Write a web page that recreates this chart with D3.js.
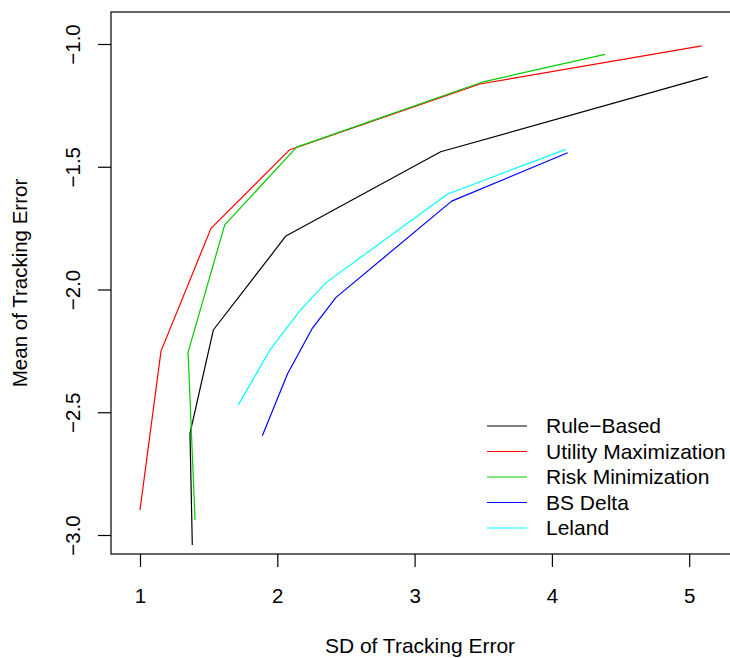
<html>
  <head>
    <meta charset="UTF-8" />
    <style>
      body { margin: 0; background: white; }
      text { font-family: "Liberation Sans", Arial, sans-serif; }
    </style>
    <script src="https://d3js.org/d3.v7.min.js"></script>
  </head>

  <body>
    <svg id="svg"></svg>

    <script>
      // series values (x = SD, y = mean of tracking error)
      var ruleX = [1.381, 1.364, 1.534, 2.063, 3.19, 5.135],
        ruleY = [-3.041, -2.586, -2.165, -1.782, -1.439, -1.133];
      var utilX = [1.0, 1.153, 1.517, 2.087, 3.476, 5.091],
        utilY = [-2.898, -2.251, -1.751, -1.432, -1.163, -1.008];
      var riskX = [1.401, 1.35, 1.617, 2.141, 3.5, 4.387],
        riskY = [-2.939, -2.256, -1.737, -1.42, -1.154, -1.042];
      var bsX = [1.891, 2.074, 2.255, 2.426, 3.27, 4.115],
        bsY = [-2.596, -2.344, -2.158, -2.033, -1.64, -1.443];
      var lelandX = [1.716, 1.947, 2.165, 2.355, 3.238, 4.1],
        lelandY = [-2.47, -2.246, -2.086, -1.972, -1.612, -1.429];

      var seriesNames = ["Rule\u2212Based", "Utility Maximization", "Risk Minimization", "BS Delta", "Leland"];
      var seriesColors = ["black", "red", "#00CD00", "blue", "cyan"];
      var xTicks = [1, 2, 3, 4, 5];
      var yTicks = [-3.0, -2.5, -2.0, -1.5, -1.0];

      var width = 730,
        height = 658;

      var svg = d3.select("#svg").attr("width", width).attr("height", height);

      // plot box (right side runs off the picture like the original)
      var boxLeft = 111, boxTop = 12, boxBottom = 554, boxRight = 745;

      var x = d3.scaleLinear().domain([1, 5]).range([140, 689.2]);
      var y = d3.scaleLinear().domain([-3, -1]).range([535, 44]);

      var series = [
        { xs: ruleX, ys: ruleY },
        { xs: utilX, ys: utilY },
        { xs: riskX, ys: riskY },
        { xs: bsX, ys: bsY },
        { xs: lelandX, ys: lelandY },
      ];

      var line = d3
        .line()
        .x((d) => x(d[0]))
        .y((d) => y(d[1]));

      series.forEach(function (s, i) {
        svg
          .append("path")
          .datum(d3.zip(s.xs, s.ys))
          .attr("fill", "none")
          .attr("stroke", seriesColors[i])
          .attr("stroke-width", 1.2)
          .attr("stroke-linejoin", "round")
          .attr("d", line);
      });

      // box
      svg
        .append("rect")
        .attr("x", boxLeft)
        .attr("y", boxTop)
        .attr("width", boxRight - boxLeft)
        .attr("height", boxBottom - boxTop)
        .attr("fill", "none")
        .attr("stroke", "black")
        .attr("stroke-width", 1.2);

      // x axis
      var xAxis = d3.axisBottom(x).tickValues(xTicks).tickSize(13).tickPadding(21).tickFormat(d3.format("d"));
      var gx = svg.append("g").attr("transform", "translate(0," + boxBottom + ")").call(xAxis);
      gx.select(".domain").remove();
      gx.selectAll("line").attr("stroke", "black").attr("stroke-width", 1.2);
      gx.selectAll("text")
        .attr("fill", "black")
        .style("font-size", "20.5px")
        .style("font-family", "Liberation Sans, Arial, sans-serif");

      // y axis, labels turned like R's default
      var yAxis = d3.axisLeft(y).tickValues(yTicks).tickSize(13).tickFormat((d) => d3.format(".1f")(d).replace("-", "\u2212"));
      var gy = svg.append("g").attr("transform", "translate(" + boxLeft + ",0)").call(yAxis);
      gy.select(".domain").remove();
      gy.selectAll("line").attr("stroke", "black").attr("stroke-width", 1.2);
      gy.selectAll("text")
        .attr("fill", "black")
        .attr("x", 0)
        .attr("dy", null)
        .attr("text-anchor", "middle")
        .attr("transform", "translate(-31,0) rotate(-90)")
        .style("font-size", "20.5px")
        .style("font-family", "Liberation Sans, Arial, sans-serif");

      // axis titles
      svg
        .append("text")
        .attr("x", 420)
        .attr("y", 653)
        .attr("text-anchor", "middle")
        .style("font-size", "21px")
        .text("SD of Tracking Error");

      svg
        .append("text")
        .attr("transform", "translate(27,283) rotate(-90)")
        .attr("text-anchor", "middle")
        .style("font-size", "20.5px")
        .text("Mean of Tracking Error");

      // legend
      var legend = svg.append("g").attr("transform", "translate(487,426)");
      seriesNames.forEach(function (name, i) {
        legend
          .append("line")
          .attr("x1", 0)
          .attr("x2", 40)
          .attr("y1", i * 25.5)
          .attr("y2", i * 25.5)
          .attr("stroke", seriesColors[i])
          .attr("stroke-width", 1.2);
        legend
          .append("text")
          .attr("x", 59)
          .attr("y", i * 25.5 + 7)
          .style("font-size", "21px")
          .text(name);
      });
    </script>
  </body>
</html>
